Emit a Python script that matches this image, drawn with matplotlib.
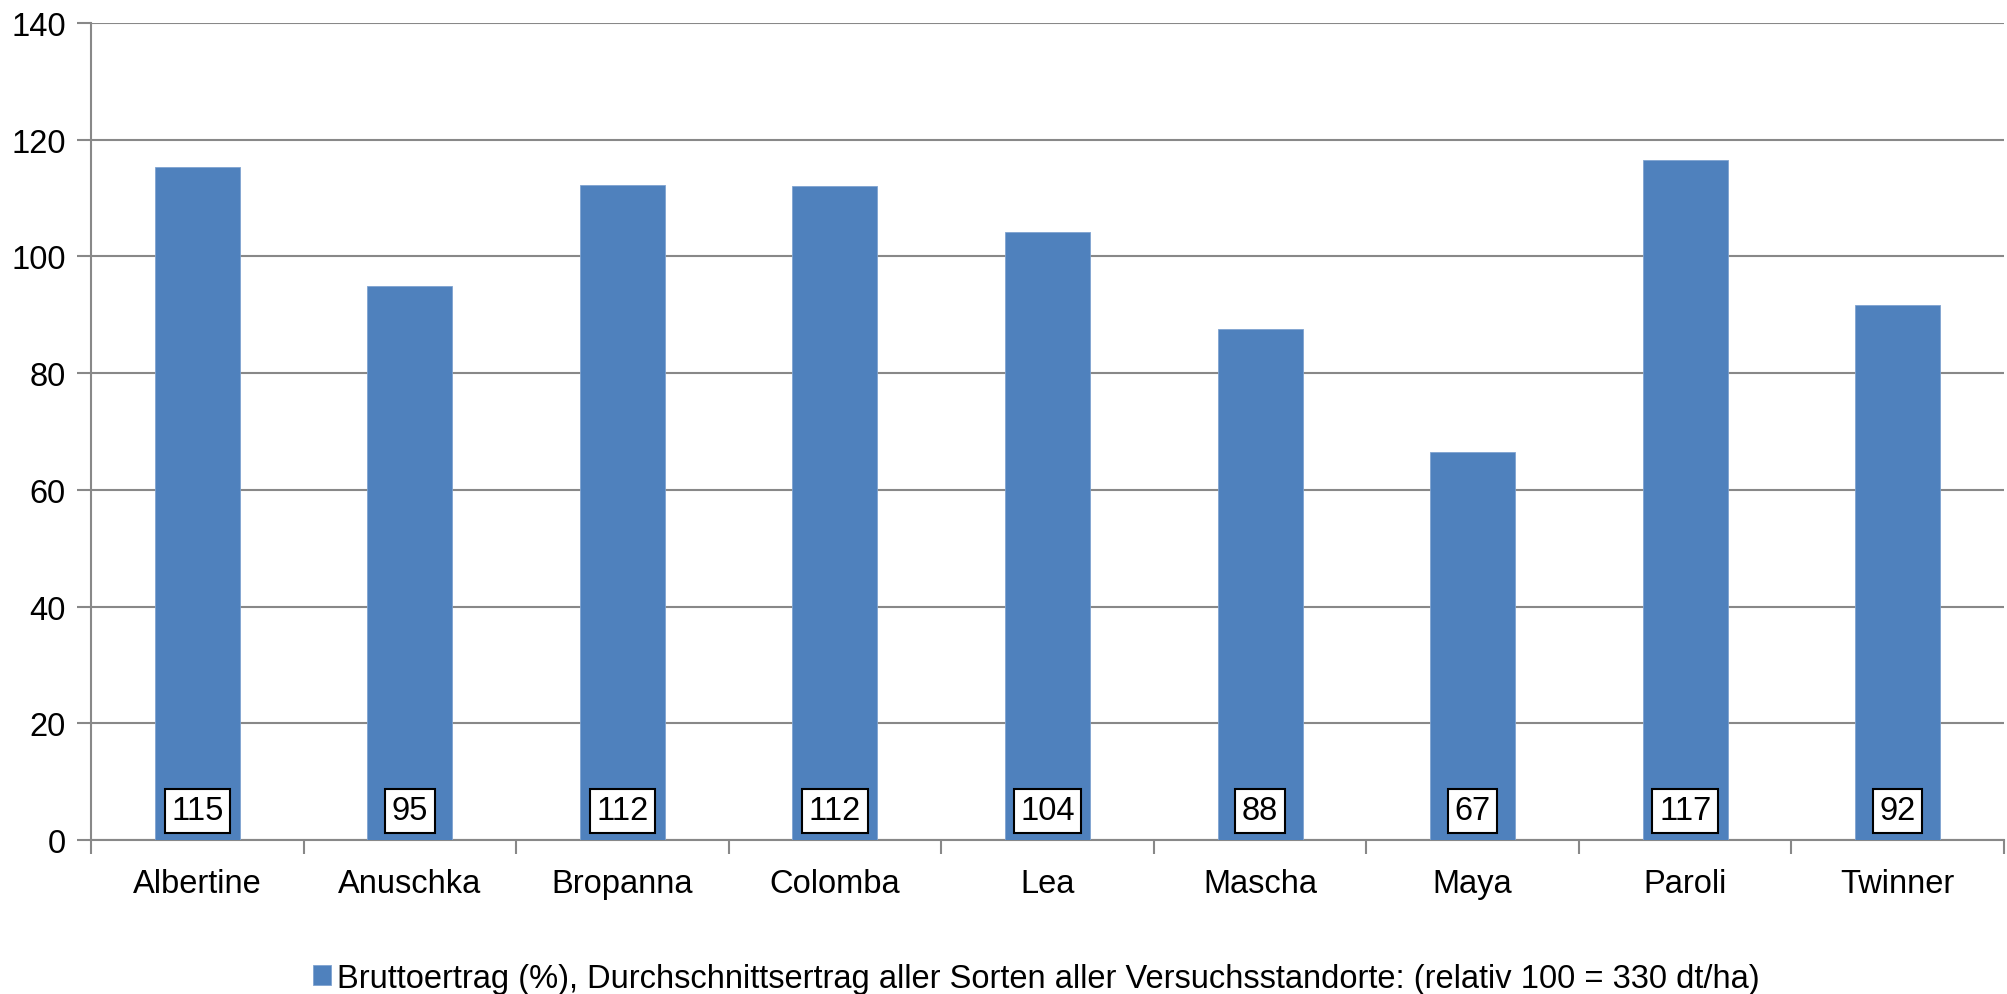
import matplotlib.pyplot as plt
import numpy as np

sorten = ["Albertine", "Anuschka", "Bropanna", "Colomba", "Lea",
          "Mascha", "Maya", "Paroli", "Twinner"]
ertrag = [115.3, 95.0, 112.2, 112.0, 104.2, 87.6, 66.5, 116.5, 91.7]
beschriftung = ["115", "95", "112", "112", "104", "88", "67", "117", "92"]
legende = "Bruttoertrag (%), Durchschnittsertrag aller Sorten aller Versuchsstandorte: (relativ 100 = 330 dt/ha)"

plt.rcParams['font.family'] = ['Liberation Sans', 'DejaVu Sans']

fig = plt.figure(figsize=(20.08, 9.95), dpi=100)
ax = fig.add_axes([0.0453, 0.1548, 0.9527, 0.8212])

x = np.arange(len(sorten))
bars = ax.bar(x, ertrag, 0.4, color='#4F81BD', edgecolor='#7FA3D0', linewidth=0.6,
              label=legende, zorder=3)

for xi, txt in zip(x, beschriftung):
    ax.text(xi, 5.0, txt, ha='center', va='center', fontsize=23.5, zorder=4,
            bbox=dict(boxstyle='square,pad=0.2', fc='white', ec='black', lw=1.5))

ax.set_xlim(-0.5, len(sorten) - 0.5)
ax.set_ylim(0, 140)
ax.set_yticks(np.arange(0, 141, 20))
ax.set_xticks(x)
ax.set_xticklabels(sorten)
ax.set_xticks(np.arange(-0.5, len(sorten)), minor=True)
ax.tick_params(axis='x', which='major', length=0, pad=20, labelsize=23.5)
ax.tick_params(axis='x', which='minor', length=10, width=1.5, color='#888888')
ax.tick_params(axis='y', length=10, width=1.5, color='#888888', pad=8, labelsize=23.5)

ax.grid(axis='y', color='#888888', linewidth=1.5, zorder=0)
for s in ['top', 'right']:
    ax.spines[s].set_visible(False)
for s in ['left', 'bottom']:
    ax.spines[s].set_color('#888888')
    ax.spines[s].set_linewidth(1.5)

fig.legend(handles=[bars], labels=[legende], loc='center', bbox_to_anchor=(0.516, 0.016),
           frameon=False, fontsize=23.5, handlelength=0.55, handleheight=0.55,
           handletextpad=0.2)

plt.savefig('out.png', dpi=100)
